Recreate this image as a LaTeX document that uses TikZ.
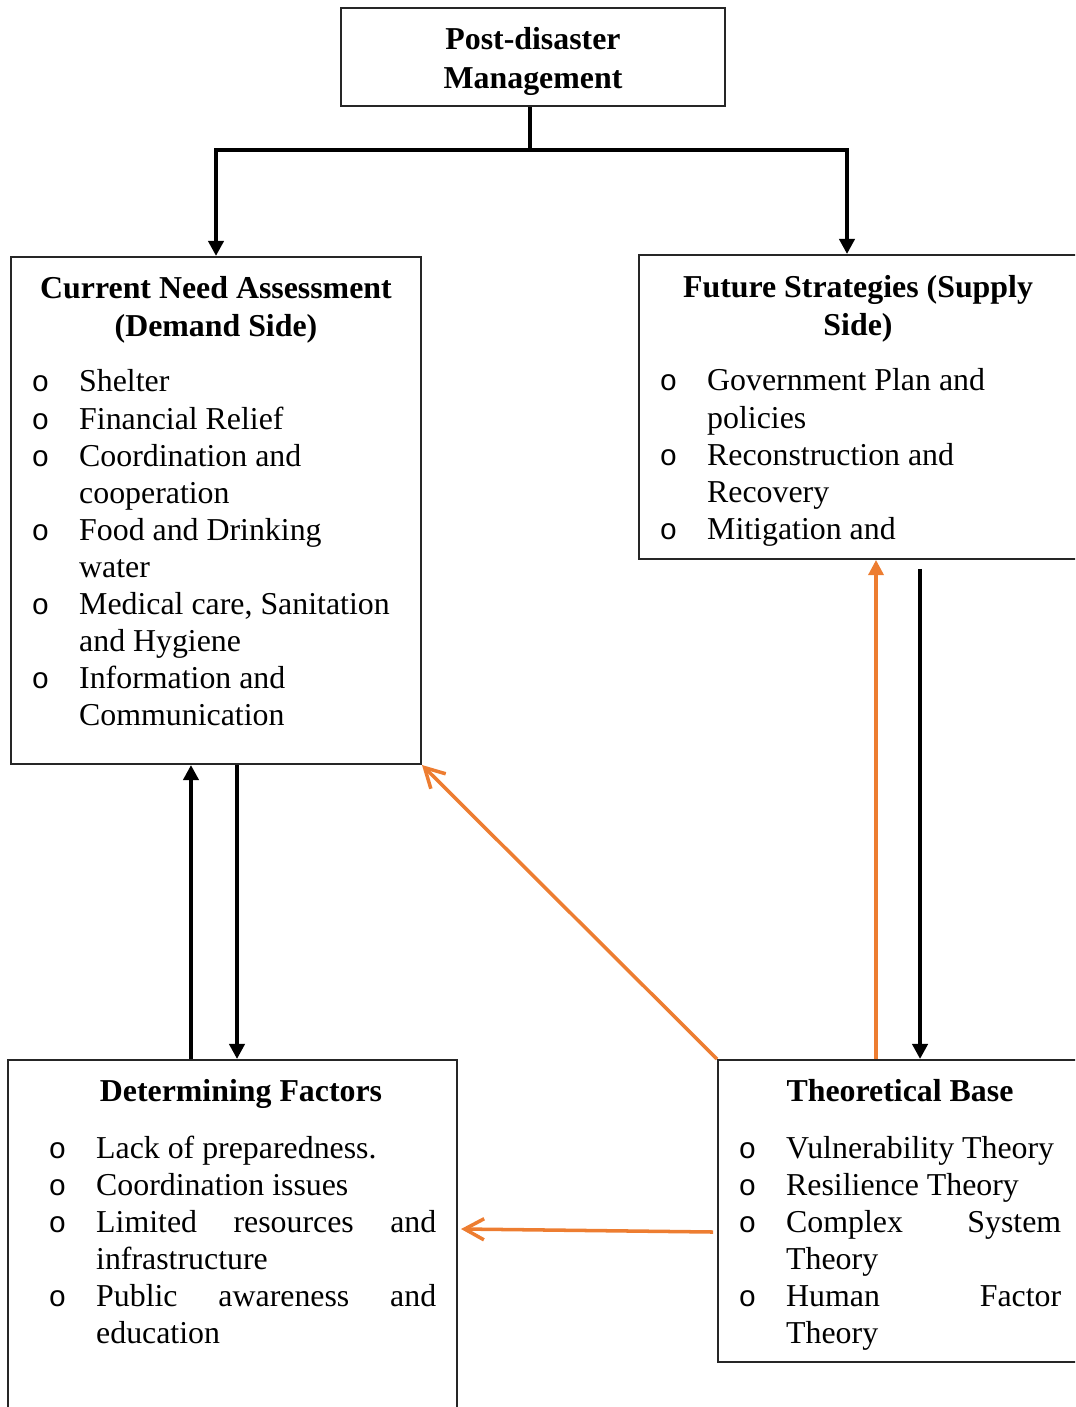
\documentclass[tikz,border=0pt]{standalone}
\usepackage{fontspec}
\setmainfont{Liberation Serif}
\newfontfamily\bulfont{Liberation Mono}
\usetikzlibrary{arrows.meta}
\definecolor{orng}{HTML}{ED7D31}
\newcommand{\bul}{\makebox[13.5pt][l]{\fontsize{8.4}{10.53}\bulfont o}}
\newcommand{\nxt}{\hspace*{13.5pt}}

\begin{document}
\begin{tikzpicture}[x=0.01cm,y=-0.01cm,
        box/.style={draw=black!85,line width=0.5pt,inner sep=0pt},
        txt/.style={inner sep=0pt,anchor=base west,font=\fontsize{9.06}{10.53}\selectfont},
        ttl/.style={inner sep=0pt,anchor=base,font=\fontsize{9.06}{10.53}\selectfont\bfseries},
        blk/.style={line width=1.1pt},
        arr/.style={blk,-{Triangle[length=4.3pt,width=4.3pt]}},
        orarr/.style={draw=orng,line width=0.9pt,-{Triangle[length=4.3pt,width=4.3pt]}},
        orbarb/.style={draw=orng,line width=1pt,-{Straight Barb[length=5.5pt,width=6pt]}}]
    \useasboundingbox (0,0) rectangle (1075,1407);
    \clip (0,0) rectangle (1075,1407);

    \node[box,minimum width=3.84cm,minimum height=0.98cm] (post) at (533,57) {};
    \node[box,minimum width=4.10cm,minimum height=5.07cm] (need) at (216,510.5) {};
    \node[box,minimum width=4.42cm,minimum height=3.04cm] (future) at (860,407) {};
    \node[box,minimum width=4.49cm,minimum height=3.60cm] (det) at (232.5,1240) {};
    \node[box,minimum width=3.64cm,minimum height=3.02cm] (theo) at (900,1211) {};

    \node[ttl] (postT) at (533,49.5) {\begin{tabular}[t]{@{}c@{}}Post-disaster\\[0.6pt]Management\end{tabular}};

    \node[ttl] (needT) at (216,299) {\begin{tabular}[t]{@{}c@{}}Current Need Assessment\\(Demand Side)\end{tabular}};
    \node[txt] (needL) at (31,392) {\begin{tabular}[t]{@{}l@{}}
        \bul Shelter\\
        \bul Financial Relief\\
        \bul Coordination and\\
        \nxt cooperation\\
        \bul Food and Drinking\\
        \nxt water\\
        \bul Medical care, Sanitation\\
        \nxt and Hygiene\\
        \bul Information and\\
        \nxt Communication
    \end{tabular}};

    \node[ttl] (futureT) at (858,298) {\begin{tabular}[t]{@{}c@{}}Future Strategies (Supply\\Side)\end{tabular}};
    \node[txt] (futureL) at (659,391) {\begin{tabular}[t]{@{}l@{}}
        \bul Government Plan and\\
        \nxt policies\\
        \bul Reconstruction and\\
        \nxt Recovery\\
        \bul Mitigation and
    \end{tabular}};

    \node[ttl] (detT) at (241,1101) {Determining Factors};
    \node[txt] (detL) at (48,1158) {\begin{tabular}[t]{@{}l@{}}
        \bul Lack of preparedness.\\
        \bul Coordination issues\\
        \bul\makebox[96.7pt][s]{Limited resources and}\\
        \nxt infrastructure\\
        \bul\makebox[96.7pt][s]{Public awareness and}\\
        \nxt education
    \end{tabular}};

    \node[ttl] (theoT) at (900,1101) {Theoretical Base};
    \node[txt] (theoL) at (738,1158) {\begin{tabular}[t]{@{}l@{}}
        \bul Vulnerability Theory\\
        \bul Resilience Theory\\
        \bul\makebox[78.2pt][s]{Complex System}\\
        \nxt Theory\\
        \bul\makebox[78.2pt][s]{Human Factor}\\
        \nxt Theory
    \end{tabular}};

    \coordinate (fork) at (530,150);
    \draw[blk] (post.south -| fork) -- (fork);
    \draw[arr] (fork) -| (need.north);
    \draw[arr] (fork) -| ([xshift=-0.13cm]future.north);

    \draw[arr] ([xshift=0.21cm]need.south) -- ([xshift=0.21cm]need.south |- det.north);
    \draw[arr] ([xshift=-0.25cm]need.south |- det.north) -- ([xshift=-0.25cm]need.south);

    \draw[orarr] ([xshift=0.16cm]future.south |- theo.north) -- ([xshift=0.16cm]future.south);
    \draw[arr] ([xshift=0.6cm,yshift=-0.09cm]future.south) -- ([xshift=0.6cm]future.south |- theo.north);

    \draw[orbarb] (theo.north west) -- (need.south east);
    \draw[orbarb] ([xshift=-0.04cm,yshift=-0.21cm]theo.west) -- ([xshift=0.03cm,yshift=0.11cm]det.east);
\end{tikzpicture}
\end{document}
